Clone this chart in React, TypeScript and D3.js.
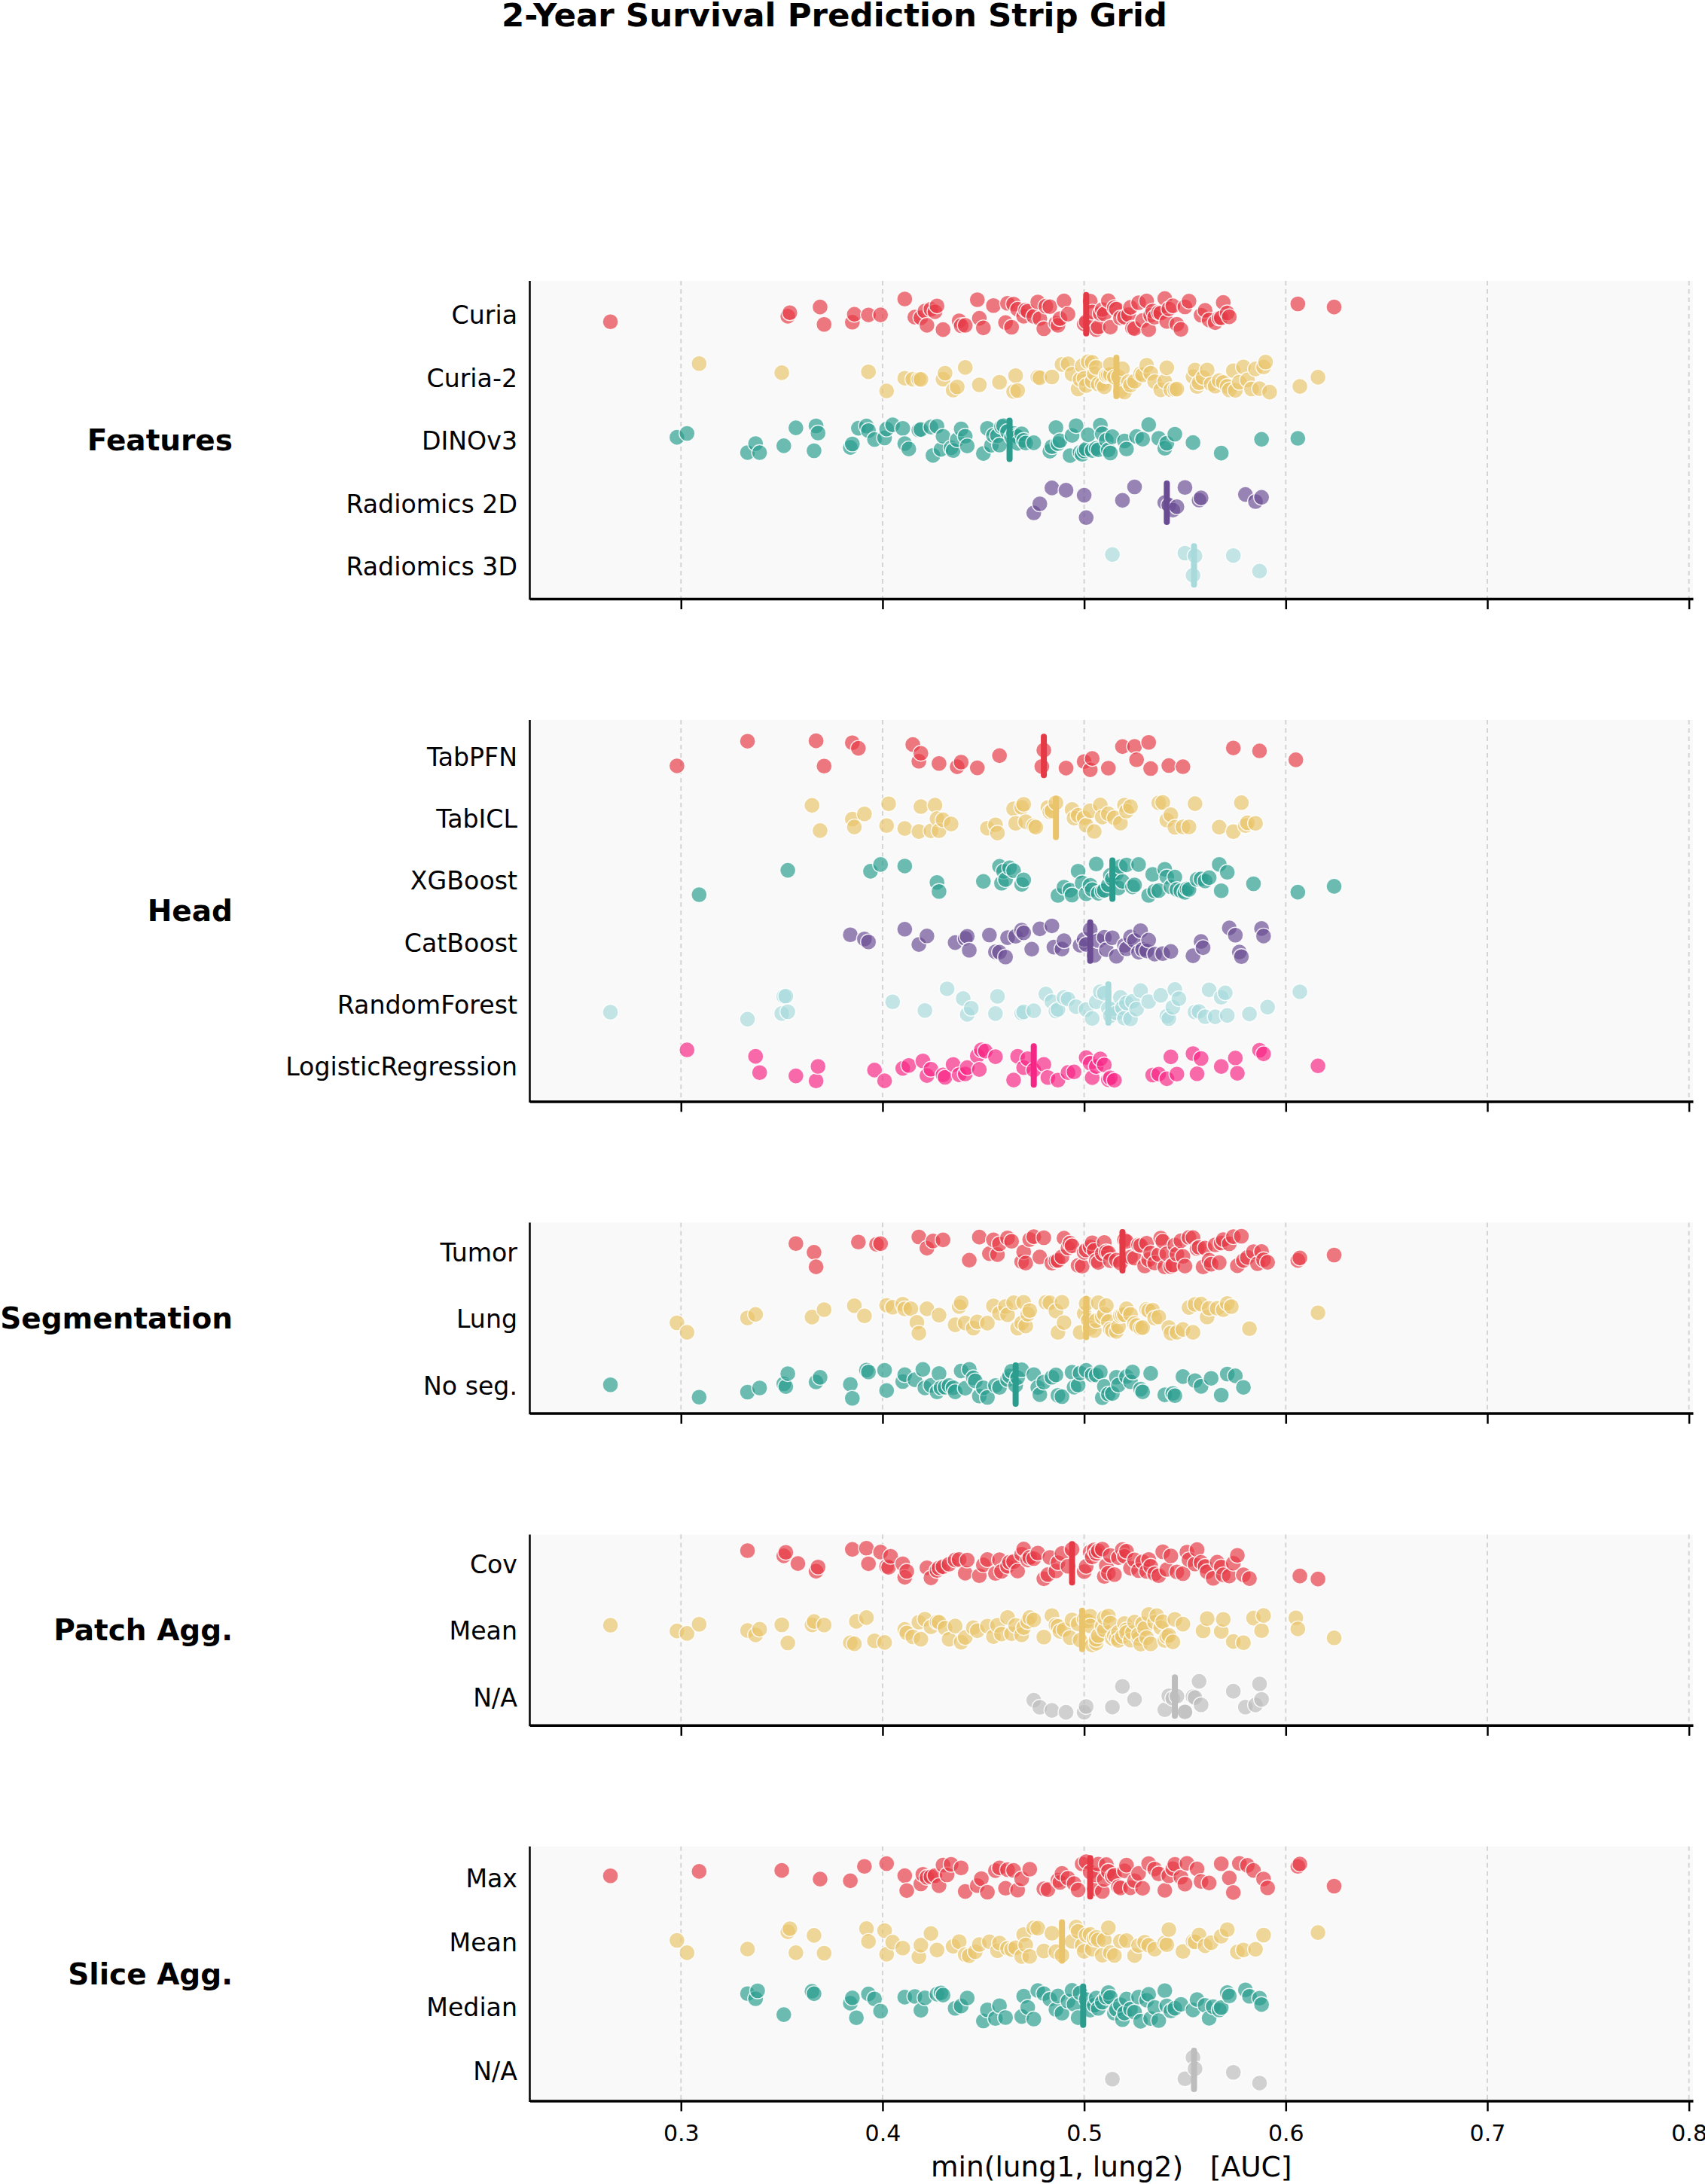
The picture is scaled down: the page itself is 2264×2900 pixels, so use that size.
import React, { useEffect, useRef } from 'react';
import * as d3 from 'd3';

// ---- categories ----
const featureRows = ['Curia', 'Curia-2', 'DINOv3', 'Radiomics 2D', 'Radiomics 3D'];
const headRows = ['TabPFN', 'TabICL', 'XGBoost', 'CatBoost', 'RandomForest', 'LogisticRegression'];
const segRows = ['Tumor', 'Lung', 'No seg.'];
const patchRows = ['Cov', 'Mean', 'N/A'];
const sliceRows = ['Max', 'Mean', 'Median', 'N/A'];

const xTicks = [0.3, 0.4, 0.5, 0.6, 0.7, 0.8];

// ---- AUC per run, grouped by setting ----
const curia = [0.265, 0.353, 0.354, 0.369, 0.371, 0.385, 0.386, 0.393, 0.399, 0.411, 0.416, 0.419, 0.421, 0.422, 0.424, 0.426, 0.427, 0.430, 0.438, 0.439, 0.441, 0.447, 0.448, 0.450, 0.455, 0.461, 0.462, 0.464, 0.465, 0.467, 0.470, 0.471, 0.472, 0.475, 0.477, 0.478, 0.480, 0.481, 0.483, 0.486, 0.487, 0.488, 0.490, 0.492, 0.500, 0.501, 0.503, 0.504, 0.506, 0.507, 0.508, 0.509, 0.510, 0.512, 0.513, 0.515, 0.516, 0.518, 0.520, 0.522, 0.523, 0.524, 0.525, 0.527, 0.529, 0.531, 0.532, 0.533, 0.534, 0.535, 0.537, 0.538, 0.540, 0.541, 0.542, 0.544, 0.546, 0.548, 0.550, 0.552, 0.558, 0.560, 0.562, 0.565, 0.567, 0.568, 0.569, 0.571, 0.572, 0.606, 0.624];
const curia2 = [0.309, 0.350, 0.393, 0.402, 0.411, 0.415, 0.418, 0.419, 0.430, 0.431, 0.435, 0.437, 0.441, 0.448, 0.458, 0.465, 0.466, 0.467, 0.477, 0.478, 0.484, 0.489, 0.492, 0.494, 0.497, 0.498, 0.499, 0.500, 0.501, 0.502, 0.504, 0.504, 0.505, 0.506, 0.507, 0.509, 0.510, 0.511, 0.511, 0.512, 0.513, 0.513, 0.515, 0.517, 0.518, 0.519, 0.520, 0.522, 0.523, 0.525, 0.528, 0.529, 0.531, 0.533, 0.535, 0.538, 0.540, 0.541, 0.543, 0.545, 0.546, 0.554, 0.555, 0.556, 0.557, 0.559, 0.561, 0.563, 0.565, 0.567, 0.569, 0.571, 0.572, 0.574, 0.575, 0.577, 0.579, 0.581, 0.583, 0.585, 0.587, 0.589, 0.590, 0.592, 0.607, 0.616];
const dinov3 = [0.298, 0.303, 0.333, 0.337, 0.339, 0.351, 0.357, 0.366, 0.367, 0.368, 0.384, 0.385, 0.388, 0.392, 0.393, 0.396, 0.401, 0.402, 0.405, 0.410, 0.411, 0.413, 0.418, 0.419, 0.424, 0.425, 0.427, 0.429, 0.430, 0.434, 0.435, 0.437, 0.439, 0.441, 0.442, 0.450, 0.452, 0.454, 0.455, 0.457, 0.458, 0.459, 0.460, 0.462, 0.464, 0.465, 0.466, 0.467, 0.467, 0.469, 0.470, 0.471, 0.475, 0.483, 0.484, 0.486, 0.487, 0.488, 0.493, 0.494, 0.496, 0.498, 0.499, 0.500, 0.501, 0.502, 0.504, 0.506, 0.507, 0.508, 0.509, 0.511, 0.512, 0.513, 0.514, 0.520, 0.521, 0.526, 0.529, 0.532, 0.537, 0.540, 0.541, 0.545, 0.554, 0.568, 0.588, 0.606];
const radiomics2d = [0.475, 0.478, 0.484, 0.491, 0.500, 0.501, 0.519, 0.525, 0.540, 0.542, 0.544, 0.546, 0.550, 0.557, 0.558, 0.580, 0.585, 0.588];
const radiomics3d = [0.514, 0.550, 0.554, 0.555, 0.574, 0.587];

const tabpfn = [0.298, 0.333, 0.367, 0.371, 0.385, 0.388, 0.415, 0.418, 0.419, 0.428, 0.437, 0.439, 0.447, 0.458, 0.479, 0.480, 0.491, 0.500, 0.503, 0.504, 0.512, 0.519, 0.525, 0.526, 0.532, 0.533, 0.542, 0.549, 0.574, 0.587, 0.605];
const tabicl = [0.365, 0.369, 0.385, 0.386, 0.391, 0.402, 0.403, 0.411, 0.418, 0.419, 0.424, 0.426, 0.427, 0.428, 0.430, 0.434, 0.452, 0.456, 0.457, 0.465, 0.466, 0.469, 0.470, 0.471, 0.475, 0.476, 0.482, 0.483, 0.484, 0.486, 0.494, 0.495, 0.497, 0.500, 0.501, 0.503, 0.505, 0.508, 0.509, 0.512, 0.515, 0.518, 0.520, 0.521, 0.523, 0.537, 0.539, 0.541, 0.543, 0.545, 0.549, 0.552, 0.555, 0.567, 0.574, 0.578, 0.580, 0.581, 0.585];
const xgboost = [0.309, 0.353, 0.394, 0.399, 0.411, 0.427, 0.428, 0.450, 0.458, 0.459, 0.460, 0.461, 0.463, 0.465, 0.469, 0.470, 0.487, 0.490, 0.493, 0.494, 0.497, 0.499, 0.501, 0.503, 0.504, 0.506, 0.507, 0.509, 0.510, 0.512, 0.513, 0.514, 0.516, 0.517, 0.518, 0.519, 0.521, 0.524, 0.525, 0.527, 0.532, 0.534, 0.535, 0.537, 0.540, 0.541, 0.543, 0.545, 0.546, 0.548, 0.550, 0.551, 0.552, 0.556, 0.558, 0.560, 0.562, 0.567, 0.568, 0.571, 0.584, 0.606, 0.624];
const catboost = [0.384, 0.391, 0.393, 0.411, 0.418, 0.422, 0.436, 0.441, 0.442, 0.443, 0.453, 0.456, 0.458, 0.461, 0.462, 0.466, 0.469, 0.470, 0.474, 0.478, 0.484, 0.485, 0.489, 0.490, 0.498, 0.500, 0.501, 0.503, 0.505, 0.507, 0.510, 0.511, 0.514, 0.516, 0.520, 0.521, 0.523, 0.525, 0.527, 0.528, 0.529, 0.531, 0.532, 0.535, 0.539, 0.543, 0.554, 0.558, 0.559, 0.572, 0.575, 0.577, 0.578, 0.588, 0.589];
const randomForest = [0.265, 0.333, 0.350, 0.351, 0.352, 0.353, 0.405, 0.421, 0.432, 0.440, 0.442, 0.444, 0.456, 0.457, 0.469, 0.470, 0.475, 0.481, 0.484, 0.486, 0.487, 0.490, 0.492, 0.496, 0.501, 0.504, 0.506, 0.508, 0.510, 0.512, 0.513, 0.515, 0.516, 0.518, 0.519, 0.520, 0.521, 0.523, 0.524, 0.526, 0.528, 0.532, 0.538, 0.541, 0.542, 0.544, 0.545, 0.547, 0.555, 0.557, 0.560, 0.562, 0.565, 0.568, 0.570, 0.571, 0.582, 0.591, 0.607];
const logReg = [0.303, 0.337, 0.339, 0.357, 0.367, 0.368, 0.396, 0.401, 0.410, 0.413, 0.420, 0.422, 0.424, 0.430, 0.431, 0.435, 0.438, 0.441, 0.442, 0.447, 0.448, 0.449, 0.451, 0.456, 0.465, 0.467, 0.470, 0.472, 0.475, 0.480, 0.482, 0.487, 0.492, 0.495, 0.501, 0.503, 0.504, 0.506, 0.508, 0.510, 0.512, 0.513, 0.515, 0.534, 0.537, 0.541, 0.543, 0.546, 0.554, 0.556, 0.558, 0.568, 0.575, 0.576, 0.587, 0.589, 0.616];

const segTumor = [0.357, 0.366, 0.367, 0.388, 0.397, 0.399, 0.418, 0.422, 0.425, 0.430, 0.443, 0.448, 0.453, 0.455, 0.457, 0.458, 0.462, 0.464, 0.469, 0.470, 0.471, 0.473, 0.475, 0.478, 0.480, 0.484, 0.486, 0.487, 0.489, 0.490, 0.492, 0.493, 0.494, 0.497, 0.499, 0.500, 0.501, 0.503, 0.504, 0.505, 0.506, 0.507, 0.509, 0.510, 0.511, 0.512, 0.513, 0.516, 0.518, 0.520, 0.521, 0.523, 0.525, 0.527, 0.528, 0.530, 0.531, 0.532, 0.533, 0.535, 0.537, 0.538, 0.539, 0.540, 0.541, 0.543, 0.544, 0.545, 0.546, 0.548, 0.549, 0.550, 0.552, 0.554, 0.556, 0.557, 0.559, 0.560, 0.562, 0.563, 0.565, 0.567, 0.568, 0.569, 0.572, 0.574, 0.576, 0.578, 0.579, 0.581, 0.584, 0.586, 0.588, 0.589, 0.591, 0.606, 0.607, 0.624];
const segLung = [0.298, 0.303, 0.333, 0.337, 0.365, 0.371, 0.386, 0.391, 0.402, 0.405, 0.410, 0.411, 0.414, 0.417, 0.418, 0.422, 0.428, 0.436, 0.438, 0.439, 0.441, 0.445, 0.447, 0.452, 0.455, 0.458, 0.461, 0.462, 0.465, 0.467, 0.469, 0.470, 0.471, 0.472, 0.473, 0.481, 0.483, 0.486, 0.487, 0.489, 0.490, 0.498, 0.500, 0.501, 0.502, 0.503, 0.505, 0.506, 0.507, 0.509, 0.510, 0.511, 0.512, 0.513, 0.514, 0.516, 0.517, 0.518, 0.519, 0.520, 0.521, 0.523, 0.525, 0.526, 0.528, 0.529, 0.531, 0.532, 0.534, 0.535, 0.537, 0.542, 0.543, 0.546, 0.549, 0.552, 0.554, 0.555, 0.558, 0.561, 0.562, 0.566, 0.569, 0.571, 0.573, 0.582, 0.616];
const segNone = [0.265, 0.309, 0.333, 0.339, 0.351, 0.352, 0.353, 0.367, 0.369, 0.384, 0.385, 0.392, 0.393, 0.401, 0.402, 0.410, 0.411, 0.416, 0.420, 0.421, 0.424, 0.427, 0.428, 0.429, 0.431, 0.433, 0.435, 0.436, 0.439, 0.441, 0.443, 0.445, 0.446, 0.448, 0.450, 0.452, 0.456, 0.458, 0.462, 0.463, 0.464, 0.466, 0.467, 0.469, 0.475, 0.477, 0.478, 0.480, 0.484, 0.486, 0.487, 0.489, 0.494, 0.495, 0.497, 0.498, 0.501, 0.504, 0.506, 0.508, 0.509, 0.510, 0.512, 0.514, 0.516, 0.517, 0.521, 0.523, 0.524, 0.528, 0.529, 0.533, 0.540, 0.544, 0.545, 0.549, 0.555, 0.558, 0.563, 0.568, 0.571, 0.575, 0.579];

const patchCov = [0.333, 0.351, 0.352, 0.358, 0.367, 0.368, 0.385, 0.392, 0.393, 0.399, 0.402, 0.403, 0.404, 0.410, 0.411, 0.412, 0.422, 0.424, 0.427, 0.428, 0.430, 0.433, 0.436, 0.438, 0.441, 0.442, 0.448, 0.450, 0.452, 0.456, 0.458, 0.459, 0.462, 0.463, 0.465, 0.467, 0.469, 0.470, 0.472, 0.473, 0.475, 0.477, 0.480, 0.482, 0.483, 0.486, 0.487, 0.489, 0.492, 0.494, 0.500, 0.501, 0.503, 0.504, 0.505, 0.506, 0.507, 0.509, 0.510, 0.511, 0.512, 0.513, 0.515, 0.517, 0.519, 0.520, 0.521, 0.523, 0.525, 0.527, 0.529, 0.531, 0.532, 0.533, 0.535, 0.537, 0.539, 0.541, 0.543, 0.546, 0.549, 0.551, 0.552, 0.555, 0.556, 0.558, 0.560, 0.561, 0.564, 0.566, 0.568, 0.569, 0.572, 0.574, 0.576, 0.579, 0.582, 0.607, 0.616];
const patchMean = [0.265, 0.298, 0.303, 0.309, 0.333, 0.337, 0.339, 0.350, 0.353, 0.365, 0.366, 0.371, 0.384, 0.386, 0.387, 0.392, 0.396, 0.401, 0.411, 0.412, 0.415, 0.418, 0.419, 0.421, 0.424, 0.427, 0.428, 0.431, 0.433, 0.436, 0.439, 0.441, 0.445, 0.447, 0.452, 0.455, 0.457, 0.459, 0.462, 0.464, 0.466, 0.469, 0.470, 0.472, 0.473, 0.475, 0.480, 0.484, 0.486, 0.487, 0.488, 0.490, 0.493, 0.494, 0.497, 0.498, 0.500, 0.501, 0.502, 0.503, 0.503, 0.504, 0.506, 0.506, 0.507, 0.509, 0.510, 0.510, 0.512, 0.513, 0.514, 0.515, 0.516, 0.517, 0.517, 0.519, 0.520, 0.521, 0.521, 0.523, 0.524, 0.525, 0.527, 0.527, 0.528, 0.529, 0.530, 0.531, 0.532, 0.533, 0.535, 0.536, 0.538, 0.539, 0.540, 0.541, 0.542, 0.544, 0.545, 0.549, 0.559, 0.561, 0.568, 0.569, 0.574, 0.579, 0.584, 0.588, 0.589, 0.605, 0.606, 0.624];
const patchNone = [0.475, 0.478, 0.484, 0.491, 0.500, 0.501, 0.514, 0.519, 0.525, 0.540, 0.542, 0.544, 0.546, 0.550, 0.550, 0.554, 0.555, 0.557, 0.558, 0.574, 0.580, 0.585, 0.587, 0.588];

const sliceMax = [0.265, 0.309, 0.350, 0.369, 0.384, 0.391, 0.402, 0.411, 0.412, 0.419, 0.420, 0.422, 0.424, 0.426, 0.428, 0.430, 0.432, 0.434, 0.439, 0.441, 0.447, 0.449, 0.452, 0.456, 0.458, 0.461, 0.462, 0.465, 0.467, 0.469, 0.473, 0.480, 0.482, 0.487, 0.488, 0.489, 0.492, 0.495, 0.497, 0.499, 0.501, 0.503, 0.505, 0.506, 0.507, 0.509, 0.510, 0.511, 0.512, 0.514, 0.515, 0.517, 0.518, 0.520, 0.521, 0.523, 0.525, 0.527, 0.529, 0.532, 0.535, 0.537, 0.540, 0.542, 0.544, 0.545, 0.548, 0.550, 0.551, 0.556, 0.558, 0.562, 0.568, 0.572, 0.574, 0.577, 0.581, 0.584, 0.589, 0.591, 0.606, 0.607, 0.624];
const sliceMean = [0.298, 0.303, 0.333, 0.353, 0.354, 0.357, 0.366, 0.371, 0.392, 0.393, 0.401, 0.402, 0.405, 0.410, 0.418, 0.419, 0.424, 0.427, 0.435, 0.438, 0.441, 0.443, 0.446, 0.448, 0.453, 0.457, 0.458, 0.462, 0.464, 0.466, 0.469, 0.470, 0.471, 0.473, 0.475, 0.477, 0.480, 0.484, 0.486, 0.489, 0.494, 0.496, 0.497, 0.499, 0.500, 0.501, 0.503, 0.504, 0.505, 0.506, 0.507, 0.509, 0.510, 0.512, 0.513, 0.515, 0.518, 0.521, 0.525, 0.527, 0.530, 0.532, 0.535, 0.540, 0.541, 0.542, 0.549, 0.554, 0.555, 0.557, 0.560, 0.563, 0.568, 0.571, 0.576, 0.579, 0.585, 0.589, 0.616];
const sliceMedian = [0.333, 0.337, 0.338, 0.351, 0.365, 0.366, 0.384, 0.385, 0.387, 0.393, 0.396, 0.399, 0.411, 0.416, 0.419, 0.421, 0.427, 0.429, 0.430, 0.436, 0.439, 0.442, 0.450, 0.452, 0.456, 0.458, 0.461, 0.469, 0.470, 0.472, 0.475, 0.477, 0.480, 0.483, 0.486, 0.487, 0.489, 0.492, 0.494, 0.495, 0.497, 0.498, 0.501, 0.503, 0.505, 0.506, 0.507, 0.509, 0.511, 0.512, 0.513, 0.515, 0.516, 0.518, 0.519, 0.520, 0.521, 0.523, 0.525, 0.527, 0.528, 0.531, 0.532, 0.533, 0.535, 0.537, 0.540, 0.541, 0.543, 0.545, 0.548, 0.554, 0.556, 0.560, 0.562, 0.564, 0.567, 0.568, 0.571, 0.572, 0.580, 0.582, 0.587, 0.588];
const sliceNone = [0.514, 0.550, 0.554, 0.555, 0.574, 0.587];

const palette = ['#e63946', '#e9c46a', '#2a9d8f', '#6a4c93', '#a8dadc', '#f72585'];
const naColor = '#bdbdbd';

const groups = [
  { title: 'Features', rows: featureRows, values: [curia, curia2, dinov3, radiomics2d, radiomics3d] },
  { title: 'Head', rows: headRows, values: [tabpfn, tabicl, xgboost, catboost, randomForest, logReg] },
  { title: 'Segmentation', rows: segRows, values: [segTumor, segLung, segNone] },
  { title: 'Patch Agg.', rows: patchRows, values: [patchCov, patchMean, patchNone] },
  { title: 'Slice Agg.', rows: sliceRows, values: [sliceMax, sliceMean, sliceMedian, sliceNone] },
];

// deterministic vertical spread so points in a row don't stack
const jitter = (row, i) => {
  const s = Math.sin((i + 1) * 12.9898 + (row + 1) * 78.233) * 43758.5453;
  return (s - Math.floor(s)) * 2 - 1;
};

const StripGrid = () => {
  const ref = useRef(null);
  const width = 2264;
  const height = 2900;
  const plotLeft = 703.5;
  const plotRight = 2248;
  const firstTop = 373;
  const rowH = 84.4;
  const gap = 161;
  const font = 'DejaVu Sans, sans-serif';

  useEffect(() => {
    const svg = d3.select(ref.current);
    svg.selectAll('*').remove();

    const x = d3.scaleLinear().domain([0.225, 0.802]).range([plotLeft, plotRight]);

    svg.append('rect').attr('width', width).attr('height', height).attr('fill', '#ffffff');

    svg.append('text')
      .attr('x', 1108)
      .attr('y', 35)
      .attr('text-anchor', 'middle')
      .attr('font-family', font)
      .attr('font-weight', 'bold')
      .attr('font-size', 43.5)
      .text('2-Year Survival Prediction Strip Grid');

    let top = firstTop;
    let rowCounter = 0;
    groups.forEach((g, gi) => {
      const n = g.rows.length;
      const bottom = top + n * rowH;
      // taller panels keep a little more room above the first and below the last row
      const y = d3.scalePoint()
        .domain(g.rows)
        .range([top, bottom])
        .padding(0.43 + 0.05 * (n - 3));
      const panel = svg.append('g');

      panel.append('rect')
        .attr('x', plotLeft)
        .attr('y', top)
        .attr('width', plotRight - plotLeft)
        .attr('height', bottom - top)
        .attr('fill', '#f9f9f9');

      // dashed verticals at the ticks
      panel.selectAll('line.grid')
        .data(xTicks).enter()
        .append('line')
        .attr('x1', d => x(d))
        .attr('x2', d => x(d))
        .attr('y1', top)
        .attr('y2', bottom)
        .attr('stroke', '#d4d4d4')
        .attr('stroke-width', 2)
        .attr('stroke-dasharray', '6,5');

      g.rows.forEach((row, ri) => {
        const cy = y(row);
        const color = row === 'N/A' ? naColor : palette[ri % palette.length];
        const vals = g.values[ri];
        const seed = rowCounter++;

        panel.append('g')
          .selectAll('circle')
          .data(vals).enter()
          .append('circle')
          .attr('cx', d => x(d))
          .attr('cy', (d, i) => cy + jitter(seed, i) * 21)
          .attr('r', 10.5)
          .attr('fill', color)
          .attr('fill-opacity', 0.68)
          .attr('stroke', '#ffffff')
          .attr('stroke-width', 1.4)
          .attr('stroke-opacity', 0.85);

        const med = d3.median(vals);
        panel.append('line')
          .attr('x1', x(med))
          .attr('x2', x(med))
          .attr('y1', cy - 25.5)
          .attr('y2', cy + 25.5)
          .attr('stroke', color)
          .attr('stroke-width', 8)
          .attr('stroke-linecap', 'round');

        panel.append('text')
          .attr('x', 687)
          .attr('y', cy)
          .attr('dy', '0.4em')
          .attr('text-anchor', 'end')
          .attr('font-family', font)
          .attr('font-size', 33.2)
          .text(row);
      });

      panel.append('text')
        .attr('x', 309)
        .attr('y', (top + bottom) / 2)
        .attr('dy', '0.36em')
        .attr('text-anchor', 'end')
        .attr('font-family', font)
        .attr('font-weight', 'bold')
        .attr('font-size', 39)
        .text(g.title);

      const isLast = gi === groups.length - 1;
      const axis = d3.axisBottom(x)
        .tickValues(xTicks)
        .tickSize(14)
        .tickSizeOuter(0)
        .tickPadding(18)
        .tickFormat(isLast ? d3.format('.1f') : () => '');

      panel.append('g')
        .attr('transform', `translate(0, ${bottom})`)
        .call(axis)
        .call(a => a.select('.domain').attr('stroke', '#000').attr('stroke-width', 3.5))
        .call(a => a.selectAll('.tick line').attr('stroke', '#000').attr('stroke-width', 2.5))
        .call(a => a.selectAll('.tick text')
          .attr('fill', '#000')
          .attr('font-family', font)
          .attr('font-size', 30));

      panel.append('line')
        .attr('x1', plotLeft)
        .attr('x2', plotLeft)
        .attr('y1', top)
        .attr('y2', bottom + 1.5)
        .attr('stroke', '#000')
        .attr('stroke-width', 2.5);

      if (isLast) {
        panel.append('text')
          .attr('x', (plotLeft + plotRight) / 2)
          .attr('y', bottom + 101)
          .attr('text-anchor', 'middle')
          .attr('font-family', font)
          .attr('font-size', 37.5)
          .style('white-space', 'pre')
          .text('min(lung1, lung2)   [AUC]');
      }

      top = bottom + gap;
    });
  }, []);

  return (
    <svg
      ref={ref}
      width={width}
      height={height}
      style={{ position: 'absolute', left: 0, top: 0, display: 'block' }}
    />
  );
};

export default function App() {
  return <StripGrid />;
}
